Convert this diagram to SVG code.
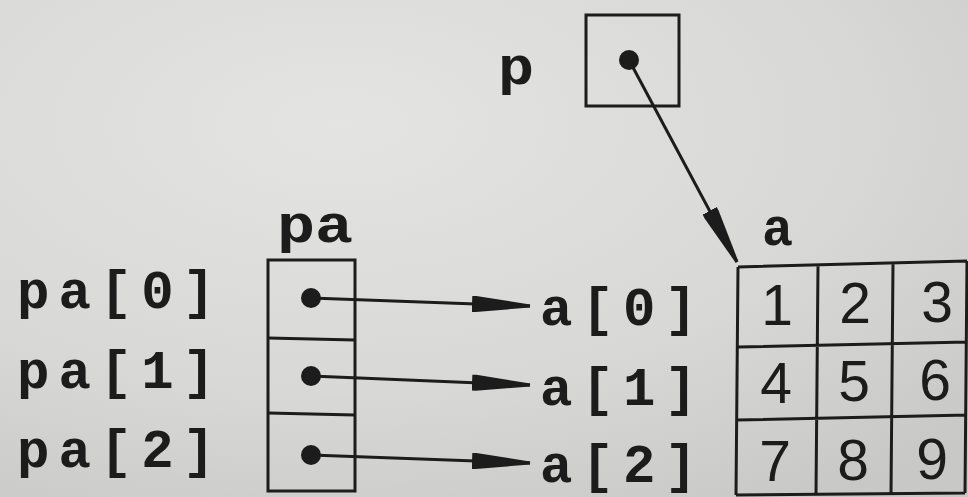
<svg xmlns="http://www.w3.org/2000/svg" width="968" height="497" viewBox="0 0 968 497">
<defs>
<radialGradient id="bg" cx="0.35" cy="0.25" r="0.9">
<stop offset="0" stop-color="#e4e4e2"/>
<stop offset="0.6" stop-color="#d8d8d6"/>
<stop offset="1" stop-color="#c8c8c6"/>
</radialGradient>
<marker id="dart" markerUnits="userSpaceOnUse" markerWidth="62" markerHeight="20" viewBox="0 -10 62 20" refX="58" refY="0" orient="auto">
<path d="M0,-8 L4,-8 L58,-1.5 L58,1.5 L4,8 L0,8 z" fill="#1c1c1c"/>
</marker>
<style>
.lbl{font-family:"Liberation Mono","Courier New",monospace;font-size:54px;font-weight:bold;fill:#1c1c1c}
.num{font-family:"Liberation Sans",Arial,sans-serif;font-size:57px;fill:#1c1c1c;text-anchor:middle}
.box{fill:none;stroke:#1c1c1c;stroke-width:3}
.dot{fill:#1c1c1c}
.conn{stroke:#1c1c1c;stroke-width:3;fill:none;marker-end:url(#dart)}
</style>
</defs>
<rect width="968" height="497" fill="url(#bg)"/>

<g id="node-p">
<text class="lbl" x="498" y="84" textLength="36" lengthAdjust="spacingAndGlyphs">p</text>
<rect class="box" x="586" y="15" width="93" height="91"/>
<circle class="dot" cx="629" cy="60" r="10"/>
</g>

<g id="node-pa">
<text class="lbl" x="277" y="242" textLength="76" lengthAdjust="spacingAndGlyphs">pa</text>
<text class="lbl" x="17" y="308" textLength="198" lengthAdjust="spacing">pa[0]</text>
<text class="lbl" x="17" y="388" textLength="198" lengthAdjust="spacing">pa[1]</text>
<text class="lbl" x="17" y="467" textLength="198" lengthAdjust="spacing">pa[2]</text>
<rect class="box" x="268" y="260" width="87" height="231"/>
<line class="box" x1="268" y1="338" x2="355" y2="340"/>
<line class="box" x1="268" y1="413" x2="355" y2="415"/>
<circle class="dot" cx="311" cy="298" r="10"/>
<circle class="dot" cx="311" cy="376" r="10"/>
<circle class="dot" cx="311" cy="455" r="10"/>
</g>

<g id="node-a">
<text class="lbl" x="762" y="245" textLength="31" lengthAdjust="spacingAndGlyphs">a</text>
<text class="lbl" x="540" y="325" textLength="157" lengthAdjust="spacing">a[0]</text>
<text class="lbl" x="540" y="405" textLength="157" lengthAdjust="spacing">a[1]</text>
<text class="lbl" x="540" y="482" textLength="157" lengthAdjust="spacing">a[2]</text>
<path class="box" d="M738,267 L967,261 M738,267 L736,495 M738,347 L967,342 M737,420 L967,415 M736,495 L965,493 M818,266 L816,494 M893,264 L891,494 M967,261 L965,493"/>
<text class="num" x="777" y="325">1</text>
<text class="num" x="855" y="323">2</text>
<text class="num" x="937" y="322">3</text>
<text class="num" x="776" y="403">4</text>
<text class="num" x="854" y="401">5</text>
<text class="num" x="935" y="400">6</text>
<text class="num" x="775" y="481">7</text>
<text class="num" x="853" y="480">8</text>
<text class="num" x="932" y="479">9</text>
</g>

<g id="connectors">
<line class="conn" x1="629" y1="60" x2="737" y2="262"/>
<line class="conn" x1="311" y1="298" x2="530" y2="306"/>
<line class="conn" x1="311" y1="376" x2="530" y2="385"/>
<line class="conn" x1="311" y1="455" x2="530" y2="463"/>
</g>
</svg>
